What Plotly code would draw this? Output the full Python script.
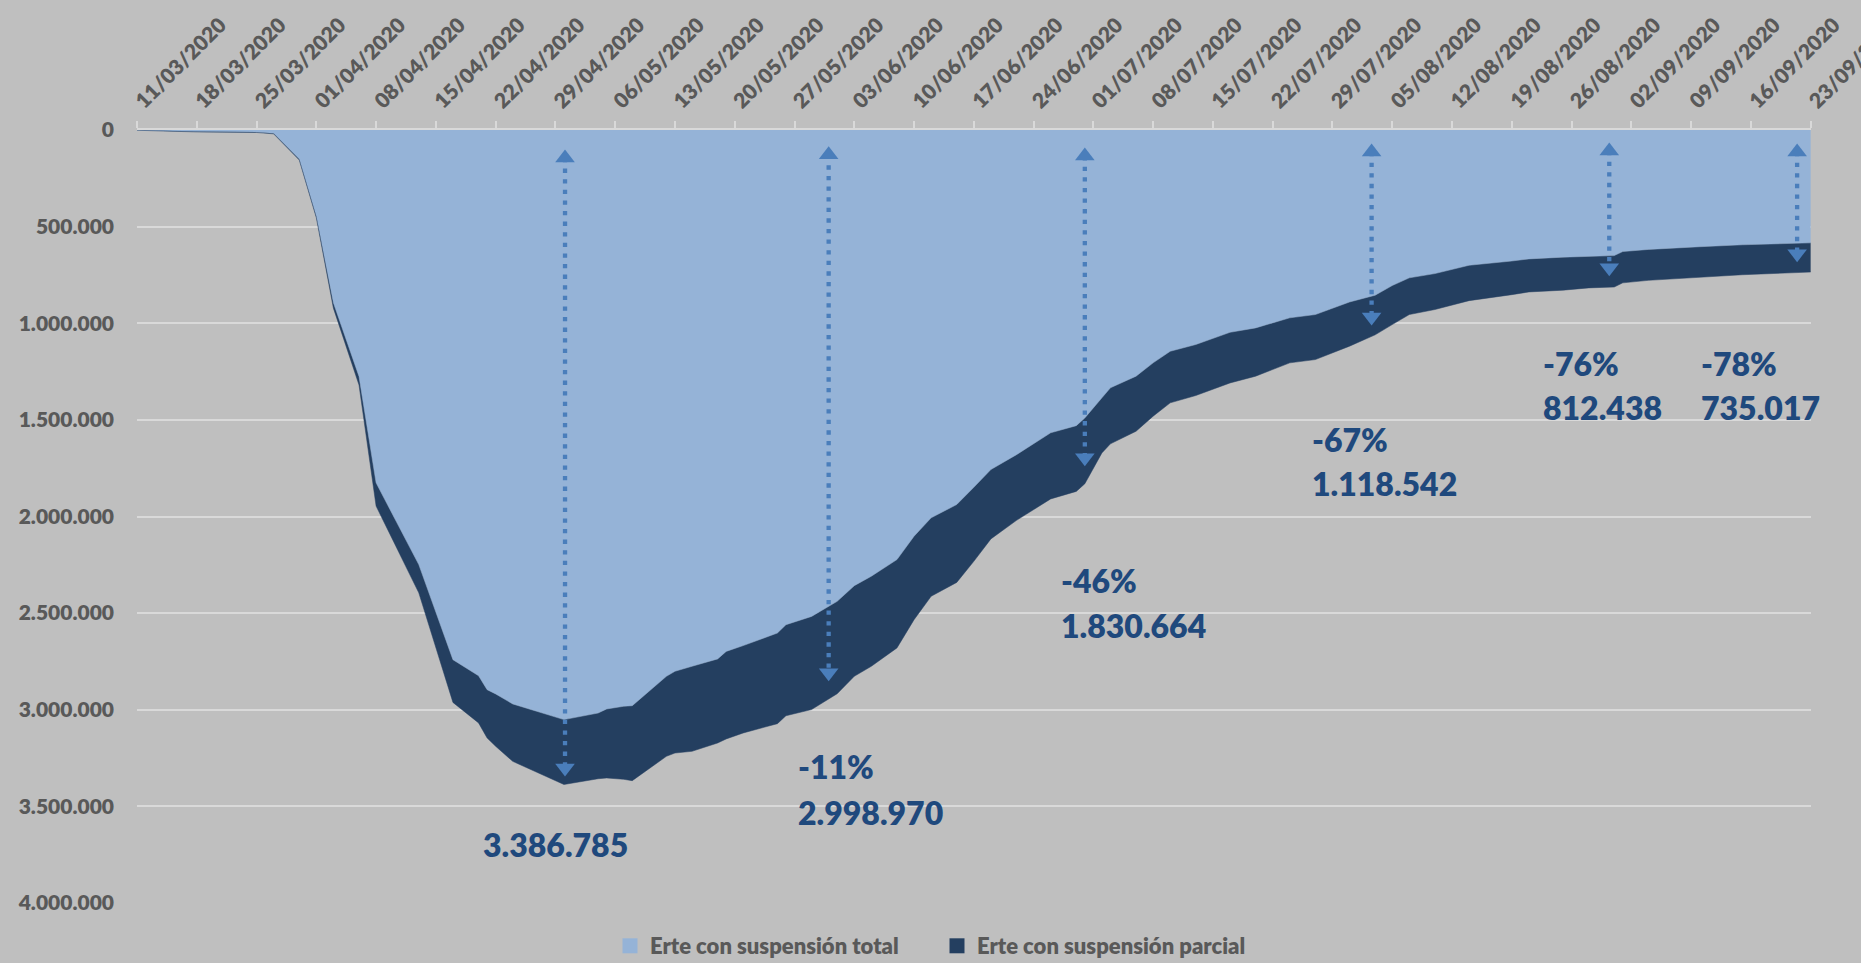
import plotly.graph_objects as go

# ---------------- data ----------------
dates = [
    "2020-03-11", "2020-03-18", "2020-03-25", "2020-03-27", "2020-03-30", "2020-04-01",
    "2020-04-03", "2020-04-06", "2020-04-08", "2020-04-13", "2020-04-17", "2020-04-20",
    "2020-04-21", "2020-04-22", "2020-04-24", "2020-04-30", "2020-05-04", "2020-05-05",
    "2020-05-07", "2020-05-08", "2020-05-12", "2020-05-13", "2020-05-15", "2020-05-18",
    "2020-05-19", "2020-05-21", "2020-05-25", "2020-05-26", "2020-05-29", "2020-06-01",
    "2020-06-03", "2020-06-05", "2020-06-08", "2020-06-10", "2020-06-12", "2020-06-15",
    "2020-06-17", "2020-06-19", "2020-06-22", "2020-06-26", "2020-06-29", "2020-06-30",
    "2020-07-02", "2020-07-03", "2020-07-06", "2020-07-08", "2020-07-10", "2020-07-13",
    "2020-07-17", "2020-07-20", "2020-07-24", "2020-07-27", "2020-07-31", "2020-08-03",
    "2020-08-05", "2020-08-07", "2020-08-10", "2020-08-13", "2020-08-14", "2020-08-19",
    "2020-08-21", "2020-08-25", "2020-08-28", "2020-08-31", "2020-09-01", "2020-09-04",
    "2020-09-10", "2020-09-15", "2020-09-23",
]
erte_total = [
    1000, 8000, 11000, 17000, 150000, 446000,
    894000, 1275000, 1826000, 2249000, 2741000, 2824000,
    2896000, 2918000, 2970000, 3051000, 3017000, 2996000,
    2982000, 2979000, 2827000, 2801000, 2775000, 2737000,
    2698000, 2668000, 2603000, 2560000, 2517000, 2439000,
    2358000, 2309000, 2223000, 2102000, 2007000, 1938000,
    1849000, 1757000, 1680000, 1567000, 1530000, 1490000,
    1386000, 1334000, 1274000, 1205000, 1145000, 1110000,
    1047000, 1024000, 972000, 955000, 890000, 855000,
    805000, 765000, 743000, 708000, 700000, 678000,
    667000, 658000, 653000, 650000, 629000, 618000,
    604000, 594000, 584000,
]
erte_parcial = [
    500, 2000, 2000, 3000, 5000, 8000,
    28000, 45000, 120000, 146000, 221000, 244000,
    250000, 271000, 297000, 335785, 340000, 357000,
    378000, 388000, 414000, 423000, 440000, 435000,
    453000, 452000, 469000, 471000, 481970, 478000,
    469000, 466000, 457000, 432000, 406000, 403000,
    383000, 359000, 340000, 342000, 340000, 340664,
    285000, 290000, 285000, 276000, 267000, 264000,
    262000, 250000, 233000, 233000, 228542, 205000,
    202000, 190000, 186000, 186000, 183000, 174000,
    171000, 171000, 164000, 162438, 162000, 160000,
    157000, 155000, 151017,
]
series_names = ["Erte con suspensión total", "Erte con suspensión parcial"]

# highlighted totals (peak and later checkpoints)
label_values = [3386785, 2998970, 1830664, 1118542, 812438, 735017]

# arrows: date, top tip value, bottom tip value
arrow_dates = ["2020-04-30 03:00", "2020-05-31 00:00", "2020-06-30 00:00",
               "2020-08-02 14:00", "2020-08-30 10:00", "2020-09-21 10:00"]
arrow_top = [101000, 84000, 91000, 70000, 65000, 70000]
arrow_bottom = [3345000, 2853000, 1740000, 1012000, 757000, 684000]

# ---------------- styling / layout ----------------
BG = "#BFBFBF"
LIGHT = "#95B3D7"
DARK = "#243F60"
ARROW = "#4A7EBB"
LABEL = "#1F497D"
GRID = "#D9D9D9"
TICK = "#595959"
FONT = "Lato"
WEIGHT = 800

W, H = 1861, 963
ML, MR, MT, MB = 137, 50, 130, 60
plot_h = H - MT - MB
YMAX = 4000000
val_per_px = YMAX / plot_h

# text positions for the labels (left edge date, y of % line, y of number line)
label_x = ["2020-04-20 08:00", "2020-05-27 05:00", "2020-06-26 22:00",
           "2020-07-26 10:00", "2020-08-22 10:00", "2020-09-09 23:00"]
pct_y = [None, 3294000, 2332000, 1602000, 1209000, 1209000]
num_y = [3698000, 3533000, 2565000, 1830000, 1436000, 1436000]


def fmt(v):
    return f"{v:,}".replace(",", ".")


fig = go.Figure()

fig.add_trace(go.Scatter(
    x=dates, y=erte_total, name=series_names[0], stackgroup="erte",
    mode="lines", line=dict(width=0.5, color=LIGHT), fillcolor=LIGHT,
    showlegend=False, hoverinfo="skip",
))
fig.add_trace(go.Scatter(
    x=dates, y=erte_parcial, name=series_names[1], stackgroup="erte",
    mode="lines", line=dict(width=0.5, color=DARK), fillcolor=DARK,
    showlegend=False, hoverinfo="skip",
))

# legend entries (square swatches)
for nm, col in zip(series_names, [LIGHT, DARK]):
    fig.add_trace(go.Scatter(
        x=[None], y=[None], mode="markers", name=nm,
        marker=dict(symbol="square", size=15, color=col), showlegend=True,
    ))

# dotted double-headed arrows
msize = 17
off = (msize / 2) * val_per_px
for xd, yt, yb in zip(arrow_dates, arrow_top, arrow_bottom):
    fig.add_trace(go.Scatter(
        x=[xd, xd], y=[yt + off, yb - off], mode="lines",
        line=dict(color=ARROW, width=4.3, dash="4.3px,6.3px"),
        showlegend=False, hoverinfo="skip",
    ))
    fig.add_trace(go.Scatter(
        x=[xd, xd], y=[yt + off, yb - off], mode="markers",
        marker=dict(symbol=["triangle-up", "triangle-down"], size=msize,
                    color=ARROW, line=dict(width=0)),
        showlegend=False, hoverinfo="skip",
    ))

peak = label_values[0]
annotations = []
for i, v in enumerate(label_values):
    annotations.append(dict(
        x=label_x[i], y=num_y[i], xref="x", yref="y", text=fmt(v),
        showarrow=False, xanchor="left", yanchor="middle",
        font=dict(family=FONT, size=32, color=LABEL, weight=WEIGHT),
    ))
    if pct_y[i] is not None:
        pct = round((v / peak - 1) * 100)
        annotations.append(dict(
            x=label_x[i], y=pct_y[i], xref="x", yref="y", text=f"{pct}%",
            showarrow=False, xanchor="left", yanchor="middle",
            font=dict(family=FONT, size=32, color=LABEL, weight=WEIGHT),
        ))

fig.update_layout(
    width=W, height=H,
    margin=dict(l=ML, r=MR, t=MT, b=MB, pad=0, autoexpand=False),
    paper_bgcolor=BG, plot_bgcolor=BG,
    separators=",.",
    font=dict(family=FONT, color=TICK, weight=WEIGHT),
    annotations=annotations,
    hovermode=False,
    legend=dict(
        orientation="h", traceorder="normal",
        x=(610 - ML) / (W - ML - MR), xanchor="left",
        y=-(946 - (H - MB)) / plot_h, yanchor="middle",
        font=dict(family=FONT, size=22, color=TICK, weight=WEIGHT),
        bgcolor="rgba(0,0,0,0)", entrywidth=282, entrywidthmode="pixels",
        itemclick=False, itemdoubleclick=False,
    ),
    xaxis=dict(
        type="date", side="top", range=["2020-03-11", "2020-09-23 01:00"],
        tickmode="linear", tick0="2020-03-11", dtick=7 * 86400000,
        tickformat="%d/%m/%Y", tickangle=-45, ticklabeloverflow="allow",
        tickfont=dict(family=FONT, size=21, color=TICK, weight=WEIGHT),
        showgrid=False, zeroline=False,
        showline=True, linecolor=GRID, linewidth=1.5,
        ticks="outside", ticklen=7, tickwidth=1.5, tickcolor=GRID,
    ),
    yaxis=dict(
        range=[YMAX, 0], tickmode="linear", tick0=0, dtick=500000,
        tickformat=",d",
        tickfont=dict(family=FONT, size=21, color=TICK, weight=WEIGHT),
        showgrid=True, gridcolor=GRID, gridwidth=1.5,
        zeroline=False, showline=False, ticks="", ticklabelstandoff=22,
    ),
)

fig.write_html("out.html", config={"displayModeBar": False},
               post_script="document.body.style.margin='0';document.body.style.overflow='hidden';")
